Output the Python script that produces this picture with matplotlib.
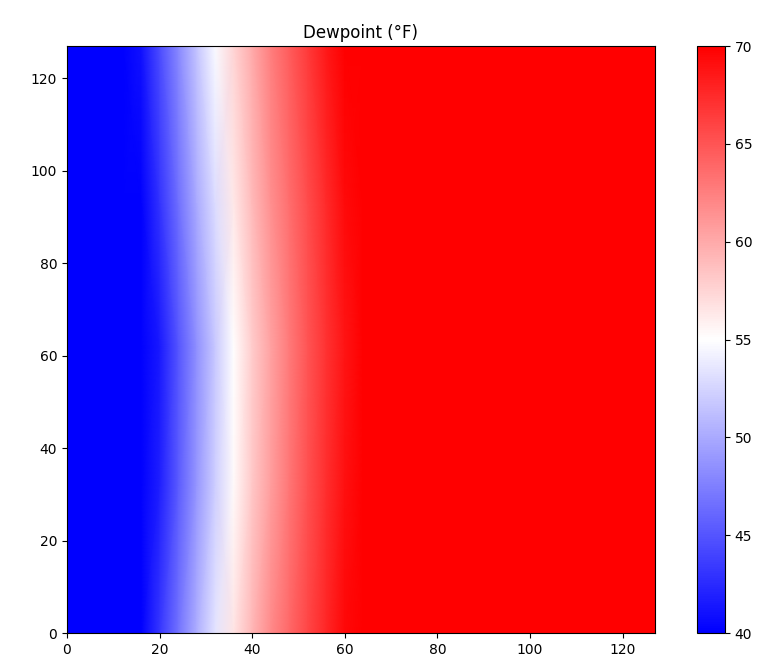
import numpy as np
import matplotlib
matplotlib.use("Agg")
import matplotlib.pyplot as plt

# sample columns (x) and rows (y) of the dewpoint field
x_nodes = [0, 12, 16, 20, 24, 28, 32, 36, 40, 44, 48, 52, 56, 60, 64, 80, 127]
y_nodes = [0, 32, 62, 93, 127]

# dewpoint (F) along each row, bottom to top
row_y0 = [35, 37.2, 39.8, 43.2, 46.7, 50.2, 53.4, 56.6, 59.3, 61.8, 63.8, 65.8, 67.7, 69.5, 71, 74, 78]
row_y32 = [35, 36.7, 38.8, 41.8, 45.3, 48.8, 52.1, 55.3, 58.2, 60.7, 63, 65.2, 67.2, 69, 70.5, 73.5, 78]
row_y62 = [35, 36.5, 38.5, 41.5, 45, 48.5, 51.8, 55.1, 58, 60.5, 62.8, 65, 67, 68.8, 70.3, 73.5, 78]
row_y93 = [35, 37, 39.5, 43, 46.5, 50, 53, 56.3, 59, 61.5, 63.5, 65.5, 67.5, 69.3, 71, 74, 78]
row_y127 = [36, 38, 41, 44.5, 48, 51.5, 54.7, 57.5, 60, 62.5, 64.5, 66.5, 68.5, 70.2, 71.5, 74, 78]

cbar_ticks = [40, 45, 50, 55, 60, 65, 70]

X, Y = np.meshgrid(x_nodes, y_nodes)
Z = np.array([row_y0, row_y32, row_y62, row_y93, row_y127])

fig = plt.figure(figsize=(7.69, 6.65), dpi=100)
ax = fig.add_axes([0.0871, 0.0481, 0.7646, 0.8827])
cax = fig.add_axes([0.9064, 0.0481, 0.0364, 0.8827])

mesh = ax.pcolormesh(X, Y, Z, cmap="bwr", vmin=40, vmax=70, shading="gouraud")
ax.set_xlim(0, 127)
ax.set_ylim(0, 127)
ax.set_xticks([0, 20, 40, 60, 80, 100, 120])
ax.set_yticks([0, 20, 40, 60, 80, 100, 120])
ax.set_title("Dewpoint (°F)", fontsize=12)
ax.tick_params(labelsize=10)

cb = fig.colorbar(mesh, cax=cax)
cb.set_ticks(cbar_ticks)
cb.ax.tick_params(labelsize=10)

fig.savefig("out.png", dpi=100)
